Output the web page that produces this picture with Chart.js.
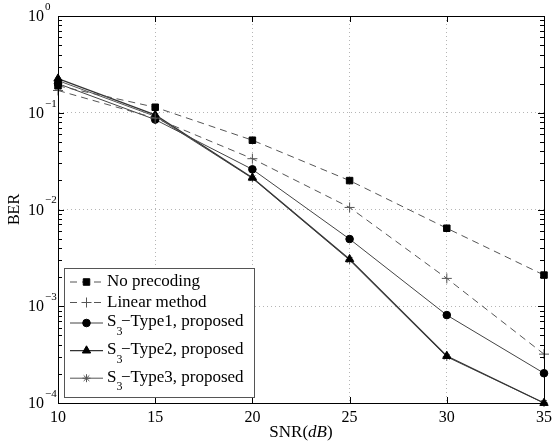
<!DOCTYPE html>
<html>
<head>
<meta charset="utf-8">
<script src="https://cdn.jsdelivr.net/npm/chart.js@4/dist/chart.umd.min.js"></script>
<style>
  html, body { margin: 0; padding: 0; background: #fff; }
</style>
</head>
<body>
<canvas id="berChart" width="557" height="445"></canvas>
<script>
// values
const snr = [10, 15, 20, 25, 30, 35];
const noPrecoding = [0.19, 0.114, 0.052, 0.0199, 0.0064, 0.0021];
const linearMethod = [0.17, 0.088, 0.0335, 0.0105, 0.00194, 0.00032];
const type1 = [0.20, 0.085, 0.026, 0.00495, 0.00081, 0.000203];
const type2 = [0.225, 0.095, 0.0213, 0.00306, 0.000306, 0.0001];
const type3 = [0.215, 0.092, 0.021, 0.0030, 0.0003, 0.0001];

const xTicks = [10, 15, 20, 25, 30, 35];
const yDecades = [1e-4, 1e-3, 1e-2, 1e-1, 1];
const yExponents = ['\u22124', '\u22123', '\u22122', '\u22121', '0'];
const seriesNames = ['No precoding', 'Linear method', 'S_3\u2212Type1, proposed', 'S_3\u2212Type2, proposed', 'S_3\u2212Type3, proposed'];

const FONT = '"Liberation Serif", "DejaVu Serif", serif';

function toPoints(arr) {
    return snr.map((x, i) => ({ x: x, y: arr[i] }));
}

const frame = {
    id: 'frame',
    afterDatasetsDraw(chart) {
        const ctx = chart.ctx;
        const a = chart.chartArea;
        const xs = chart.scales.x;
        const ys = chart.scales.y;
        ctx.save();
        ctx.strokeStyle = '#000';
        ctx.lineWidth = 1;
        ctx.strokeRect(Math.round(a.left) + 0.5, Math.round(a.top) + 0.5, Math.round(a.right - a.left), Math.round(a.bottom - a.top));

        // inward ticks on x
        ctx.beginPath();
        xTicks.forEach(v => {
            const px = Math.round(xs.getPixelForValue(v)) + 0.5;
            ctx.moveTo(px, a.bottom); ctx.lineTo(px, a.bottom - 6);
            ctx.moveTo(px, a.top); ctx.lineTo(px, a.top + 6);
        });
        // inward ticks on y (major + minor)
        for (let k = -4; k <= 0; k++) {
            for (let m = 1; m <= 9; m++) {
                const v = m * Math.pow(10, k);
                if (v > 1) break;
                const py = Math.round(ys.getPixelForValue(v)) + 0.5;
                const len = m === 1 ? 6 : 4;
                ctx.moveTo(a.left, py); ctx.lineTo(a.left + len, py);
                ctx.moveTo(a.right, py); ctx.lineTo(a.right - len, py);
            }
        }
        ctx.stroke();

        // y tick labels 10^k
        ctx.fillStyle = '#000';
        ctx.textBaseline = 'middle';
        yDecades.forEach((v, i) => {
            const py = ys.getPixelForValue(v);
            ctx.font = '16px ' + FONT;
            ctx.textAlign = 'right';
            ctx.fillText('10', a.left - 14, py + 1);
            ctx.font = '11px ' + FONT;
            ctx.textAlign = 'left';
            ctx.fillText(yExponents[i], a.left - 13, py - 9);
        });

        // axis titles
        ctx.font = '16px ' + FONT;
        ctx.save();
        ctx.translate(15, (a.top + a.bottom) / 2);
        ctx.rotate(-Math.PI / 2);
        ctx.textAlign = 'center';
        ctx.fillText('BER', 0, 0);
        ctx.restore();

        const parts = [['SNR(', '17px ' + FONT], ['dB', 'italic 17px ' + FONT], [')', '17px ' + FONT]];
        let total = 0;
        parts.forEach(p => { ctx.font = p[1]; total += ctx.measureText(p[0]).width; });
        let tx = (a.left + a.right) / 2 - total / 2;
        ctx.textAlign = 'left';
        parts.forEach(p => {
            ctx.font = p[1];
            ctx.fillText(p[0], tx, 433);
            tx += ctx.measureText(p[0]).width;
        });

        // legend box
        const lx = a.left + 6, lw = 190, lh = 129;
        const ly = a.bottom - 6 - lh;
        ctx.fillStyle = '#fff';
        ctx.fillRect(lx, ly, lw, lh);
        ctx.strokeStyle = '#555';
        ctx.strokeRect(Math.round(lx) + 0.5, Math.round(ly) + 0.5, lw, lh);

        let ry = ly + 14;
        chart.data.datasets.forEach((ds, i) => {
            const name = seriesNames[i];
            ctx.save();
            ctx.strokeStyle = ds.borderColor;
            ctx.lineWidth = ds.borderWidth;
            ctx.setLineDash(ds.borderDash || []);
            ctx.beginPath();
            ctx.moveTo(lx + 6, ry); ctx.lineTo(lx + 39, ry);
            ctx.stroke();
            ctx.setLineDash([]);
            ctx.fillStyle = ds.pointBackgroundColor;
            ctx.strokeStyle = ds.pointBorderColor;
            ctx.lineWidth = ds.pointBorderWidth;
            Chart.helpers.drawPoint(ctx, {
                pointStyle: ds.pointStyle, radius: ds.pointRadius,
                borderWidth: ds.pointBorderWidth, rotation: 0
            }, lx + 22.5, ry);
            ctx.restore();

            ctx.fillStyle = '#000';
            ctx.textAlign = 'left';
            ctx.textBaseline = 'middle';
            let x = lx + 43;
            const sub = name.indexOf('_');
            if (sub < 0) {
                ctx.font = '17px ' + FONT;
                ctx.fillText(name, x, ry);
                ry += 20.5;
            } else {
                ctx.font = '17px ' + FONT;
                const head = name.slice(0, sub);
                ctx.fillText(head, x, ry - 1);
                x += ctx.measureText(head).width;
                ctx.font = '12px ' + FONT;
                ctx.fillText(name[sub + 1], x, ry + 9);
                x += ctx.measureText(name[sub + 1]).width - 1.5;
                ctx.font = '17px ' + FONT;
                ctx.fillText(name.slice(sub + 2), x, ry - 1);
                ry += 27.6;
            }
        });
        ctx.restore();
    }
};

new Chart(document.getElementById('berChart'), {
    type: 'line',
    data: {
        datasets: [
            {
                label: seriesNames[0], data: toPoints(noPrecoding),
                borderColor: '#555', borderWidth: 1, borderDash: [7, 5],
                pointStyle: 'rect', pointRadius: 4.6, pointBorderWidth: 1,
                pointBackgroundColor: '#000', pointBorderColor: '#000'
            },
            {
                label: seriesNames[1], data: toPoints(linearMethod),
                borderColor: '#555', borderWidth: 1, borderDash: [7, 5],
                pointStyle: 'cross', pointRadius: 5, pointBorderWidth: 1,
                pointBackgroundColor: '#555', pointBorderColor: '#555'
            },
            {
                label: seriesNames[2], data: toPoints(type1),
                borderColor: '#444', borderWidth: 1,
                pointStyle: 'circle', pointRadius: 3.8, pointBorderWidth: 1,
                pointBackgroundColor: '#000', pointBorderColor: '#000'
            },
            {
                label: seriesNames[3], data: toPoints(type2),
                borderColor: '#333', borderWidth: 1.2,
                pointStyle: 'triangle', pointRadius: 4.8, pointBorderWidth: 1,
                pointBackgroundColor: '#000', pointBorderColor: '#000'
            },
            {
                label: seriesNames[4], data: toPoints(type3),
                borderColor: '#555', borderWidth: 1,
                pointStyle: 'star', pointRadius: 4, pointBorderWidth: 1,
                pointBackgroundColor: '#555', pointBorderColor: '#555'
            }
        ].map(ds => Object.assign({ fill: false, tension: 0, clip: false }, ds))
    },
    options: {
        responsive: false,
        animation: false,
        events: [],
        layout: { padding: { top: 16, right: 9, left: 0, bottom: 0 } },
        plugins: { legend: { display: false }, tooltip: { enabled: false } },
        scales: {
            x: {
                type: 'linear', min: 10, max: 35,
                afterBuildTicks: s => { s.ticks = xTicks.map(v => ({ value: v })); },
                afterFit: s => { s.height = 42; },
                grid: { color: '#b5b5b5', lineWidth: 1, drawTicks: false },
                border: { display: true, color: '#000', width: 1, dash: [1, 3] },
                ticks: { color: '#000', font: { family: FONT, size: 16 }, padding: 5, maxRotation: 0 }
            },
            y: {
                type: 'logarithmic', min: 1e-4, max: 1,
                afterBuildTicks: s => { s.ticks = yDecades.map(v => ({ value: v })); },
                afterFit: s => { s.width = 58; },
                grid: { color: '#b5b5b5', lineWidth: 1, drawTicks: false },
                border: { display: true, color: '#000', width: 1, dash: [1, 3] },
                ticks: { display: false }
            }
        }
    },
    plugins: [frame]
});
</script>
</body>
</html>
